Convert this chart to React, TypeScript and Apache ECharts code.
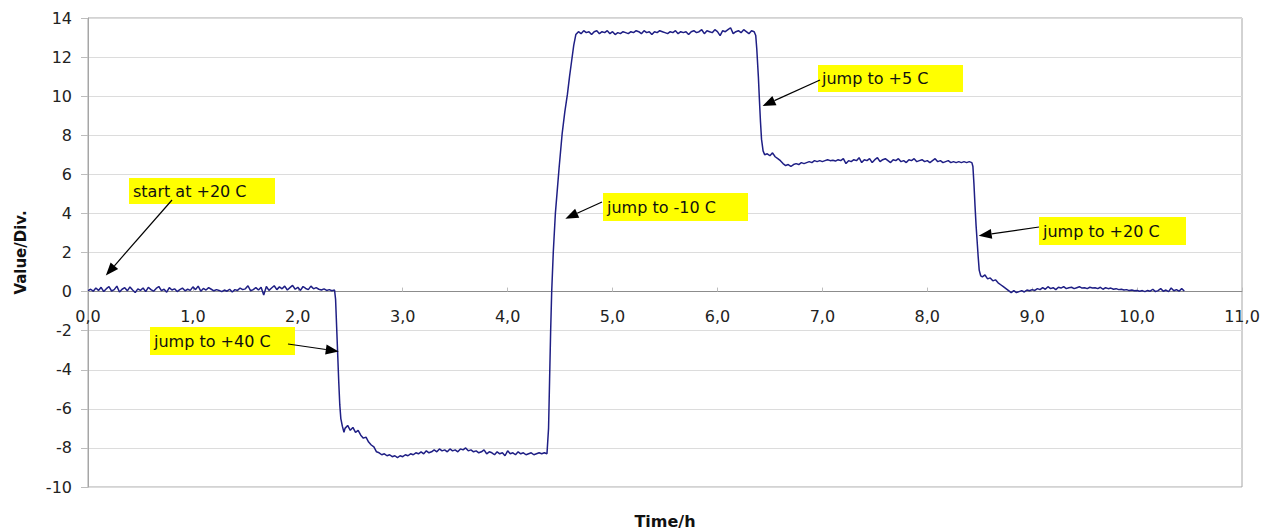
import React, { useEffect, useRef } from "react";
import * as echarts from "echarts";

// ---- data (time in hours, value in Div.) ----
const STEP = 0.025;
const xTickValues = [0, 1, 2, 3, 4, 5, 6, 7, 8, 9, 10, 11];
const yTickValues = [-10, -8, -6, -4, -2, 0, 2, 4, 6, 8, 10, 12, 14];

// start at +20 C : t = 0.000 .. 2.350
const flatStart = [
  0.05, 0.12, 0.02, 0.18, 0.06, 0.22, 0.0, 0.15, 0.25, 0.03,
  0.1, 0.28, -0.02, 0.12, 0.2, 0.04, 0.24, 0.08, -0.05, 0.14,
  0.06, 0.18, 0.0, 0.22, 0.1, 0.02, 0.16, 0.26, 0.05, 0.12,
  -0.03, 0.2, 0.08, 0.14, 0.0, 0.1, 0.18, 0.04, 0.12, 0.06,
  0.24, 0.1, 0.28, 0.02, 0.16, 0.08, 0.2, 0.12, 0.04, 0.1,
  0.06, 0.0, 0.08, 0.02, 0.12, -0.02, 0.1, 0.06, 0.18, 0.1,
  0.14, 0.3, 0.04, 0.1, 0.2, 0.08, 0.22, -0.18, 0.26, 0.06,
  0.18, 0.3, 0.1, 0.24, 0.14, 0.28, 0.08, 0.2, 0.32, 0.12,
  0.22, 0.06, 0.26, 0.16, 0.1, 0.28, 0.14, 0.2, 0.12, 0.08,
  0.14, 0.06, 0.1, 0.04, 0.08,
];

// jump to +40 C
const drop40: [number, number][] = [
  [2.36, -0.4], [2.37, -1.8], [2.38, -3.2], [2.39, -4.6], [2.4, -5.8],
  [2.41, -6.5], [2.425, -6.9], [2.44, -7.2],
];

// t = 2.450 .. 4.375
const coldPhase = [
  -7.0, -6.85, -7.1, -6.95, -7.2, -7.1, -7.35, -7.5, -7.45, -7.7,
  -7.85, -7.95, -8.2, -8.25, -8.35, -8.3, -8.4, -8.35, -8.45, -8.4,
  -8.5, -8.4, -8.45, -8.35, -8.4, -8.3, -8.35, -8.25, -8.3, -8.2,
  -8.3, -8.15, -8.25, -8.2, -8.1, -8.2, -8.05, -8.15, -8.1, -8.2,
  -8.05, -8.15, -8.1, -8.2, -8.05, -8.1, -8.0, -8.15, -8.1, -8.2,
  -8.15, -8.25, -8.2, -8.1, -8.3, -8.2, -8.25, -8.35, -8.2, -8.3,
  -8.25, -8.4, -8.15, -8.3, -8.25, -8.35, -8.2, -8.3, -8.25, -8.35,
  -8.3, -8.25, -8.35, -8.3, -8.25, -8.3, -8.25, -8.3,
];

// jump to -10 C
const rise10: [number, number][] = [
  [4.39, -7.0], [4.4, -4.5], [4.41, -2.0], [4.42, 0.0], [4.435, 2.0],
  [4.455, 4.0], [4.49, 6.3], [4.52, 8.1], [4.545, 9.2], [4.57, 10.1],
  [4.59, 11.0], [4.61, 11.8], [4.63, 12.6], [4.65, 13.15],
];

// t = 4.675 .. 6.350
const plateauHigh = [
  13.3, 13.2, 13.35, 13.25, 13.3, 13.15, 13.3, 13.35, 13.2, 13.3,
  13.25, 13.35, 13.2, 13.3, 13.15, 13.25, 13.2, 13.3, 13.25, 13.2,
  13.3, 13.25, 13.35, 13.3, 13.2, 13.35, 13.25, 13.3, 13.15, 13.3,
  13.25, 13.35, 13.3, 13.25, 13.2, 13.3, 13.25, 13.35, 13.2, 13.3,
  13.25, 13.3, 13.15, 13.3, 13.35, 13.25, 13.3, 13.4, 13.2, 13.35,
  13.3, 13.25, 13.4, 13.3, 13.1, 13.35, 13.3, 13.4, 13.5, 13.2,
  13.3, 13.35, 13.25, 13.4, 13.3, 13.2, 13.35, 13.3,
];

// jump to +5 C
const drop5: [number, number][] = [
  [6.365, 13.1], [6.375, 12.4], [6.39, 11.0], [6.4, 9.8], [6.41, 8.7],
  [6.42, 7.8], [6.435, 7.2], [6.45, 7.0],
];

// t = 6.475 .. 8.425
const plateauMid = [
  7.05, 6.95, 7.1, 6.9, 6.8, 6.7, 6.55, 6.45, 6.5, 6.4,
  6.5, 6.55, 6.5, 6.6, 6.55, 6.6, 6.65, 6.6, 6.7, 6.65,
  6.7, 6.65, 6.7, 6.75, 6.7, 6.72, 6.68, 6.75, 6.7, 6.8,
  6.55, 6.7, 6.65, 6.75, 6.7, 6.85, 6.6, 6.75, 6.7, 6.8,
  6.6, 6.75, 6.85, 6.65, 6.75, 6.8, 6.7, 6.6, 6.75, 6.7,
  6.8, 6.65, 6.7, 6.6, 6.75, 6.7, 6.8, 6.65, 6.7, 6.75,
  6.65, 6.7, 6.6, 6.7, 6.8, 6.65, 6.7, 6.6, 6.65, 6.7,
  6.6, 6.65, 6.6, 6.65, 6.6, 6.65, 6.6, 6.65, 6.6,
];

// jump to +20 C
const drop20: [number, number][] = [
  [8.435, 6.4], [8.445, 5.5], [8.455, 4.4], [8.465, 3.4], [8.475, 2.6],
  [8.485, 1.8], [8.495, 1.1], [8.51, 0.8],
];

// t = 8.525 .. 10.450
const flatEnd = [
  0.75, 0.85, 0.65, 0.7, 0.55, 0.6, 0.45, 0.35, 0.25, 0.15,
  0.05, -0.05, 0.05, -0.05, 0.0, 0.05, -0.02, 0.08, 0.04, 0.1,
  0.06, 0.15, 0.1, 0.2, 0.12, 0.25, 0.15, 0.2, 0.1, 0.22,
  0.18, 0.25, 0.15, 0.2, 0.22, 0.15, 0.2, 0.25, 0.18, 0.2,
  0.15, 0.22, 0.18, 0.2, 0.15, 0.22, 0.12, 0.2, 0.15, 0.18,
  0.12, 0.15, 0.1, 0.12, 0.08, 0.1, 0.05, 0.08, 0.04, 0.06,
  0.02, 0.05, 0.0, 0.06, 0.02, 0.12, 0.0, 0.05, 0.15, 0.02,
  0.08, 0.0, 0.18, 0.04, 0.1, 0.02, 0.15, 0.03,
];

// annotations: label text and the data point the arrow points at
const noteTexts = ["start at +20 C", "jump to +40 C", "jump to -10 C", "jump to +5 C", "jump to +20 C"];
const noteTargets: [number, number][] = [
  [0.17, 0.82], [2.39, -3.06], [4.55, 3.73], [6.43, 9.5], [8.49, 2.86],
];

// ---- layout (pixels) ----
const GRID_TOP = 18;
const GRID_BOTTOM = 44;
const CHART_H = 531;
const noteBoxes = [
  [129, 178, 146, 26],
  [150, 327, 145, 28],
  [603, 193, 145, 28],
  [818, 65, 145, 27],
  [1039, 217, 147, 28],
];
const noteArrowStarts = [
  [172, 200],
  [288, 344],
  [602, 202],
  [820, 80],
  [1039, 227],
];

function run(start: number, values: number[]): [number, number][] {
  return values.map((v, i) => [+(start + i * STEP).toFixed(3), v]);
}

const seriesData: [number, number][] = [
  ...run(0, flatStart),
  ...drop40,
  ...run(2.45, coldPhase),
  ...rise10,
  ...run(4.675, plateauHigh),
  ...drop5,
  ...run(6.475, plateauMid),
  ...drop20,
  ...run(8.525, flatEnd),
];

const LABEL_FONT = '"DejaVu Sans", sans-serif';

export default function App() {
  const ref = useRef<HTMLDivElement>(null);

  useEffect(() => {
    if (!ref.current) return;
    const chart = echarts.init(ref.current, undefined, { renderer: "svg" });
    const yMin = yTickValues[0];
    const yMax = yTickValues[yTickValues.length - 1];
    const plotH = CHART_H - GRID_TOP - GRID_BOTTOM;
    // move the x axis (line, ticks, labels) up to the value 0
    const zeroOffset = -plotH * (0 - yMin) / (yMax - yMin);

    chart.setOption({
      animation: false,
      backgroundColor: "#ffffff",
      grid: {
        left: 88,
        top: GRID_TOP,
        right: 32,
        bottom: GRID_BOTTOM,
        show: true,
        borderColor: "#a6a6a6",
        borderWidth: 1,
        backgroundColor: "transparent",
      },
      xAxis: {
        type: "value",
        min: xTickValues[0],
        max: xTickValues[xTickValues.length - 1],
        interval: 1,
        offset: zeroOffset,
        axisLine: { show: true, onZero: false, lineStyle: { color: "#8c8c8c", width: 1 } },
        axisTick: { show: true, inside: true, length: 4, lineStyle: { color: "#bdbdbd" } },
        splitLine: { show: false },
        axisLabel: {
          margin: 17,
          fontSize: 16,
          fontFamily: LABEL_FONT,
          color: "#222",
          formatter: (v: number) => v.toFixed(1).replace(".", ","),
        },
      },
      yAxis: {
        type: "value",
        min: yMin,
        max: yMax,
        interval: 2,
        name: "Value/Div.",
        nameLocation: "middle",
        nameRotate: 90,
        nameGap: 60,
        nameTextStyle: { fontSize: 15, fontWeight: "bold", fontFamily: LABEL_FONT, color: "#111" },
        axisLine: { show: true, lineStyle: { color: "#a6a6a6" } },
        axisTick: { show: true, length: 7, lineStyle: { color: "#bdbdbd" } },
        splitLine: { show: true, lineStyle: { color: "#dcdcdc", width: 1 } },
        axisLabel: { margin: 16, fontSize: 16, fontFamily: LABEL_FONT, color: "#222" },
      },
      series: [
        {
          type: "line",
          data: seriesData,
          showSymbol: false,
          symbol: "none",
          lineStyle: { color: "#1f1f85", width: 1.5 },
          z: 3,
        },
      ],
    });

    const graphics: any[] = [];
    noteTexts.forEach((text, i) => {
      const [bx, by, bw, bh] = noteBoxes[i];
      const [sx, sy] = noteArrowStarts[i];
      const tip = chart.convertToPixel({ gridIndex: 0 }, noteTargets[i]) as number[];
      const [tx, ty] = tip;
      graphics.push({
        type: "rect",
        shape: { x: bx, y: by, width: bw, height: bh },
        style: { fill: "#ffff00" },
        z: 10,
      });
      graphics.push({
        type: "text",
        x: bx + 4,
        y: by + bh / 2,
        style: {
          text,
          fill: "#111",
          fontSize: 16,
          fontFamily: LABEL_FONT,
          verticalAlign: "middle",
          align: "left",
        },
        z: 11,
      });
      const dx = tx - sx;
      const dy = ty - sy;
      const len = Math.sqrt(dx * dx + dy * dy);
      const ux = dx / len;
      const uy = dy / len;
      const headLen = 13;
      const headHalf = 5;
      const bxp = tx - ux * headLen;
      const byp = ty - uy * headLen;
      graphics.push({
        type: "line",
        shape: { x1: sx, y1: sy, x2: bxp, y2: byp },
        style: { stroke: "#000", lineWidth: 1.2 },
        z: 12,
      });
      graphics.push({
        type: "polygon",
        shape: {
          points: [
            [tx, ty],
            [bxp - uy * headHalf, byp + ux * headHalf],
            [bxp + uy * headHalf, byp - ux * headHalf],
          ],
        },
        style: { fill: "#000" },
        z: 12,
      });
    });
    const left = chart.convertToPixel({ gridIndex: 0 }, [xTickValues[0], 0]) as number[];
    const right = chart.convertToPixel({ gridIndex: 0 }, [xTickValues[xTickValues.length - 1], 0]) as number[];
    graphics.push({
      type: "text",
      x: (left[0] + right[0]) / 2,
      y: 521,
      style: {
        text: "Time/h",
        fill: "#111",
        fontSize: 16,
        fontWeight: "bold",
        fontFamily: LABEL_FONT,
        align: "center",
        verticalAlign: "middle",
      },
      z: 10,
    });
    chart.setOption({ graphic: graphics });

    return () => chart.dispose();
  }, []);

  return (
    <div
      ref={ref}
      style={{ position: "fixed", left: 0, top: 0, width: 1274, height: 531, background: "#fff" }}
    />
  );
}
